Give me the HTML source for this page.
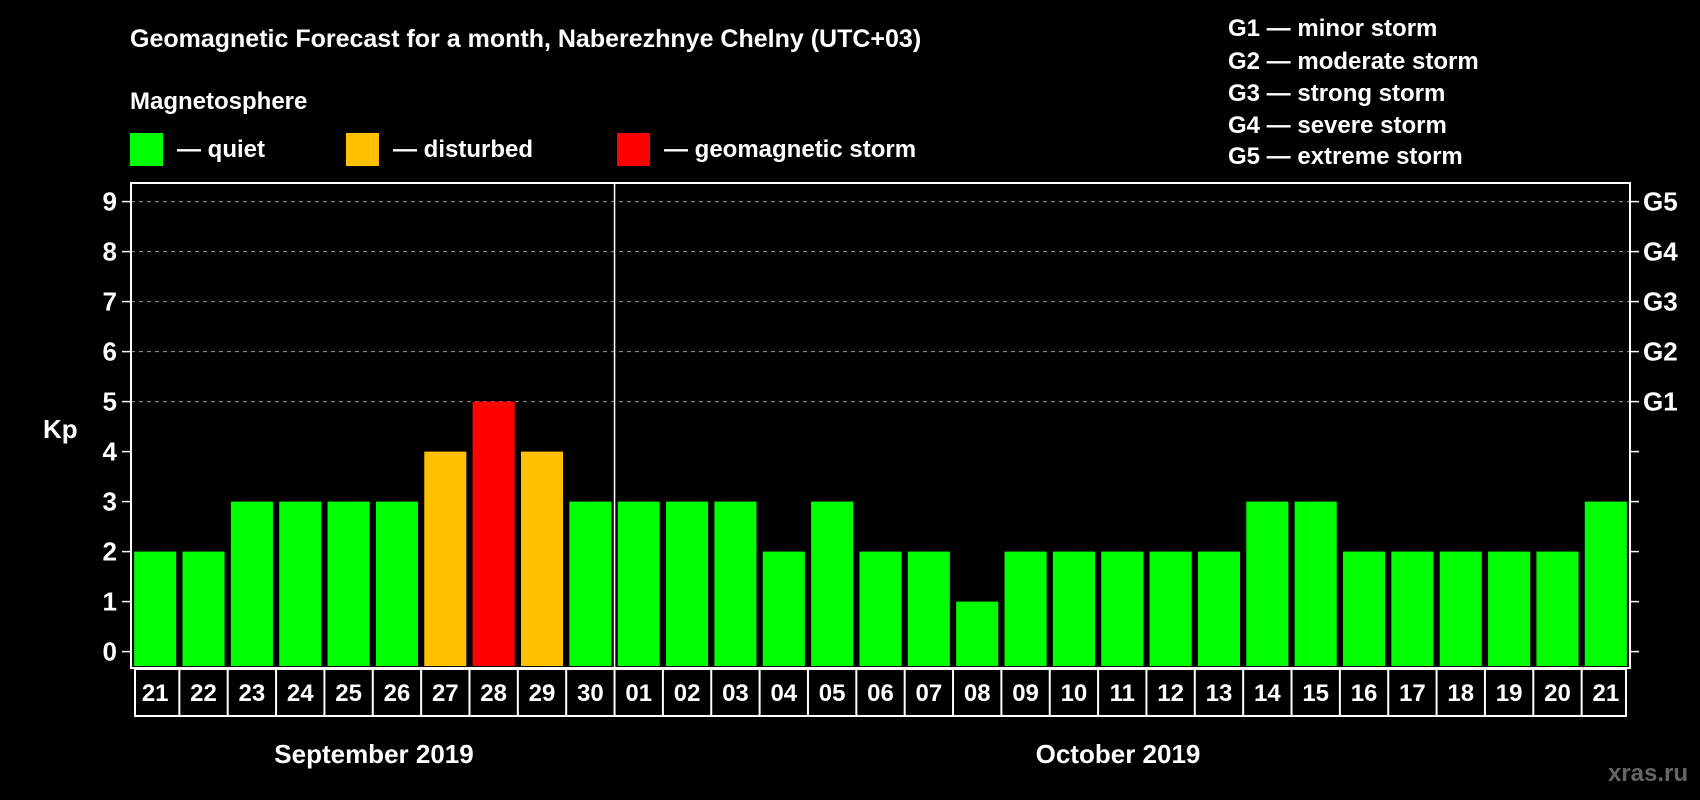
<!DOCTYPE html>
<html><head><meta charset="utf-8"><style>
html,body{margin:0;padding:0;background:#000;}
svg{display:block;font-family:"Liberation Sans",Arial,sans-serif;font-weight:bold;}
</style></head><body>
<svg id="chart" width="1700" height="800" viewBox="0 0 1700 800">
<text x="130" y="47" font-size="25" fill="#fff">Geomagnetic Forecast for a month, Naberezhnye Chelny (UTC+03)</text>
<text x="130" y="109" font-size="24" fill="#fff">Magnetosphere</text>
<g>
<rect x="130" y="133" width="33" height="33" fill="#00ff00"/>
<text x="177" y="157" font-size="24" fill="#fff">— quiet</text>
<rect x="346" y="133" width="33" height="33" fill="#ffc000"/>
<text x="393" y="157" font-size="24" fill="#fff">— disturbed</text>
<rect x="617" y="133" width="33" height="33" fill="#ff0000"/>
<text x="664" y="157" font-size="24" fill="#fff">— geomagnetic storm</text>
</g>
<g font-size="24" fill="#fff">
<text x="1228" y="36">G1 — minor storm</text>
<text x="1228" y="69">G2 — moderate storm</text>
<text x="1228" y="101">G3 — strong storm</text>
<text x="1228" y="133">G4 — severe storm</text>
<text x="1228" y="164">G5 — extreme storm</text>
</g>
<text x="43" y="438" font-size="26" fill="#fff">Kp</text>
<g id="grid"></g>
<g id="bars"></g>
<g id="axes"></g>
<g id="xlabels"></g>
<text x="374" y="763" font-size="26" fill="#fff" text-anchor="middle">September 2019</text>
<text x="1118" y="763" font-size="26" fill="#fff" text-anchor="middle">October 2019</text>
<text x="1688" y="781" font-size="24" fill="#666" text-anchor="end">xras.ru</text>
</svg>
<script>
const days = ["21","22","23","24","25","26","27","28","29","30","01","02","03","04","05","06","07","08","09","10","11","12","13","14","15","16","17","18","19","20","21"];
const kpValues = [2,2,3,3,3,3,4,5,4,3,3,3,3,2,3,2,2,1,2,2,2,2,2,3,3,2,2,2,2,2,3];
const yTicks = [0,1,2,3,4,5,6,7,8,9];
const gLabels = ["G1","G2","G3","G4","G5"];
const gLevels = [5,6,7,8,9];
const monthSplit = 10;

const NS="http://www.w3.org/2000/svg";
const L=131,R=1630,T=183,B=668;
const y0=651.6, unit=50;
const slot=(R-L)/days.length;
function yS(v){return y0-v*unit;}
function xS(i){return L+i*slot;}
function mk(tag,attrs,parent){const e=document.createElementNS(NS,tag);for(const k in attrs)e.setAttribute(k,attrs[k]);parent.appendChild(e);return e;}
const grid=document.getElementById('grid'),bars=document.getElementById('bars'),axes=document.getElementById('axes'),xl=document.getElementById('xlabels');

gLevels.forEach(v=>{
  const l=mk('line',{x1:L,x2:R,y1:yS(v),y2:yS(v),stroke:'#999','stroke-dasharray':'4,4','stroke-width':1},grid);
  
  
});
kpValues.forEach((v,i)=>{
  const c=v>=5?'#ff0000':(v>=4?'#ffc000':'#00ff00');
  const w=slot*0.87;
  const r=mk('rect',{x:xS(i)+(slot-w)/2,y:yS(v),width:w,height:B-yS(v)-2,fill:c},bars);
  
  
});
const box=mk('rect',{x:L,y:T,width:R-L,height:B-T,fill:'none',stroke:'#fff','stroke-width':2},axes);


const sep=mk('line',{x1:xS(monthSplit),x2:xS(monthSplit),y1:T,y2:B,stroke:'#fff','stroke-width':1.5},axes);


yTicks.forEach(v=>{
  mk('line',{x1:L-9,x2:L,y1:yS(v),y2:yS(v),stroke:'#fff','stroke-width':1.5},axes);
  mk('line',{x1:R,x2:R+9,y1:yS(v),y2:yS(v),stroke:'#fff','stroke-width':1.5},axes);
  const t=mk('text',{x:L-14,y:yS(v)+9,'font-size':26,fill:'#fff','text-anchor':'end'},axes);
  t.textContent=v;
  
  
});
gLabels.forEach((g,i)=>{
  const t=mk('text',{x:R+13,y:yS(gLevels[i])+9,'font-size':26,fill:'#fff'},axes);
  t.textContent=g;
  
  
});
const lb=mk('rect',{x:L+4,y:B+1,width:R-L-8,height:47,fill:'none',stroke:'#fff','stroke-width':2},xl);


days.forEach((d,i)=>{
  if(i>0){mk('line',{x1:xS(i),x2:xS(i),y1:B+1,y2:B+48,stroke:'#fff','stroke-width':2},xl);}
  const t=mk('text',{x:xS(i)+slot/2,y:B+33,'font-size':24,fill:'#fff','text-anchor':'middle'},xl);
  t.textContent=d;
  
  
});
</script>
</body></html>
